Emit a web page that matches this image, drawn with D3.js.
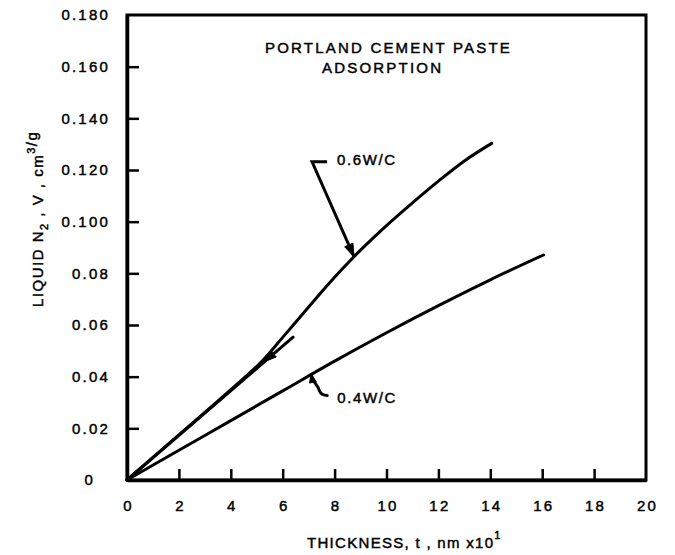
<!DOCTYPE html>
<html>
<head>
<meta charset="utf-8">
<script src="https://cdn.jsdelivr.net/npm/d3@7"></script>
<style>
  body { margin: 0; background: #fff; }
  text { font-family: "Liberation Sans", Arial, sans-serif; fill: #000; }
</style>
</head>
<body>
<div id="chart"></div>
<script>
// t-plot values: thickness t (nm x10) vs liquid N2 volume V (cm3/g)
var t06 = [0, 2, 4, 5.3, 6, 7, 8, 9, 10, 11, 12, 13, 14.05];
var v06 = [0, 0.0175, 0.035, 0.047, 0.0552, 0.067, 0.0785, 0.089, 0.0985, 0.1073, 0.1157, 0.1235, 0.1303];
var t04 = [0, 2, 4, 6, 8, 10, 12, 14, 16.05];
var v04 = [0, 0.0115, 0.023, 0.0345, 0.046, 0.057, 0.0675, 0.0775, 0.0871];
// straight initial part of the 0.6 curve, drawn past the split point
var tFit = [0, 6.4];
var vFit = [0, 0.0553];

var xTicks = [0, 2, 4, 6, 8, 10, 12, 14, 16, 18, 20];
var xTickLabels = ["0", "2", "4", "6", "8", "10", "12", "14", "16", "18", "20"];
var yTicks = [0, 0.02, 0.04, 0.06, 0.08, 0.10, 0.12, 0.14, 0.16, 0.18];
var yTickLabels = ["0", "0.02", "0.04", "0.06", "0.08", "0.100", "0.120", "0.140", "0.160", "0.180"];

var width = 675, height = 555;

var svg = d3.select("#chart").append("svg")
    .attr("width", width)
    .attr("height", height);

var x = d3.scaleLinear().domain([0, 20]).range([127, 646]);
var y = d3.scaleLinear().domain([0, 0.18]).range([480, 15]);

// frame (top + right edges)
svg.append("rect")
    .attr("x", x(0))
    .attr("y", y(0.18))
    .attr("width", x(20) - x(0))
    .attr("height", y(0) - y(0.18))
    .style("fill", "none")
    .style("stroke", "#000")
    .style("stroke-width", 3);

// y axis, ticks pointing inward
var yAxis = svg.append("g")
    .attr("transform", "translate(" + x(0) + ",0)")
    .call(d3.axisLeft(y)
        .tickValues(yTicks)
        .tickSizeInner(-12)
        .tickSizeOuter(0)
        .tickPadding(17)
        .tickFormat(function (d, i) { return yTickLabels[i]; }));

// x axis
var xAxis = svg.append("g")
    .attr("transform", "translate(0," + y(0) + ")")
    .call(d3.axisBottom(x)
        .tickValues(xTicks)
        .tickSizeInner(-11)
        .tickSizeOuter(0)
        .tickPadding(20)
        .tickFormat(function (d, i) { return xTickLabels[i]; }));

svg.selectAll(".domain")
    .style("stroke", "#000")
    .style("stroke-width", 3.5);
svg.selectAll(".tick line")
    .style("stroke", "#000")
    .style("stroke-width", 2.5);
svg.selectAll(".tick text")
    .attr("font-family", null)
    .style("font-size", "15px")
    .style("letter-spacing", "2.2px")
    .style("stroke", "#000")
    .style("stroke-width", 0.45);
// the corner ticks sit on the frame
yAxis.selectAll(".tick line").filter(function (d) { return d === 0 || d === 0.18; }).remove();
xAxis.selectAll(".tick line").filter(function (d) { return d === 0 || d === 20; }).remove();
// the "0" on the y axis is set further left than the others
yAxis.selectAll(".tick text").filter(function (d) { return d === 0; }).attr("x", -32);
xAxis.selectAll(".tick text").attr("dx", "1px");

var line = d3.line()
    .x(function (d) { return x(d[0]); })
    .y(function (d) { return y(d[1]); })
    .curve(d3.curveMonotoneX);

function pairs(ts, vs) {
    return ts.map(function (t, i) { return [t, vs[i]]; });
}

var curves = [pairs(t06, v06), pairs(t04, v04), pairs(tFit, vFit)];

svg.selectAll(".curve")
    .data(curves)
    .enter().append("path")
    .attr("class", "curve")
    .attr("d", line)
    .style("fill", "none")
    .style("stroke", "#000")
    .style("stroke-width", 3)
    .style("stroke-linecap", "round");

// filled arrow head with its point at tip, coming from 'from'
function arrowHead(tip, from, len, half) {
    var dx = tip[0] - from[0], dy = tip[1] - from[1];
    var d = Math.sqrt(dx * dx + dy * dy);
    var ux = dx / d, uy = dy / d;
    var bx = tip[0] - ux * len, by = tip[1] - uy * len;
    var pts = [tip, [bx - uy * half, by + ux * half], [bx + uy * half, by - ux * half]];
    svg.append("path")
        .attr("d", "M" + pts.join("L") + "Z")
        .style("fill", "#000")
        .style("stroke", "#000")
        .style("stroke-width", 1)
        .style("stroke-linejoin", "round");
}

var v06At = d3.scaleLinear().domain(t06).range(v06);
var v04At = d3.scaleLinear().domain(t04).range(v04);
var vFitAt = d3.scaleLinear().domain(tFit).range(vFit);

// arrow where the 0.6 curve leaves the straight line
var split = [x(5.3), y(vFitAt(5.3))];
arrowHead(split, [x(6.4), y(vFitAt(6.4))], 12, 4);

// 0.6W/C leader
var tip6 = [x(8.75), y(v06At(8.75))];
var knee6 = [tip6[0] - 42, tip6[1] - 95];
svg.append("polyline")
    .attr("points", [[knee6[0] + 15, knee6[1]], knee6, tip6].join(" "))
    .style("fill", "none")
    .style("stroke", "#000")
    .style("stroke-width", 3)
    .style("stroke-linejoin", "miter");
arrowHead(tip6, knee6, 13, 4.5);

// 0.4W/C leader (small s-shaped hook)
var tip4 = [x(7.1), y(v04At(7.1))];
svg.append("path")
    .attr("d", "M" + tip4 + "c1,8 7,10 8,16 q2,5 8,5")
    .style("fill", "none")
    .style("stroke", "#000")
    .style("stroke-width", 3)
    .style("stroke-linecap", "round");
arrowHead(tip4, [tip4[0] + 2, tip4[1] + 10], 8, 3.5);

var labelStyle = function (sel) {
    sel.style("font-size", "15px")
        .style("letter-spacing", "1.6px")
        .style("stroke", "#000")
        .style("stroke-width", 0.45);
};

svg.append("text")
    .attr("x", knee6[0] + 25)
    .attr("y", knee6[1] + 3)
    .call(labelStyle)
    .text("0.6W/C");

svg.append("text")
    .attr("x", tip4[0] + 26)
    .attr("y", tip4[1] + 28)
    .call(labelStyle)
    .text("0.4W/C");

// title
svg.append("text")
    .attr("x", 265)
    .attr("y", 53)
    .call(labelStyle)
    .style("letter-spacing", "2.2px")
    .text("PORTLAND CEMENT PASTE");
svg.append("text")
    .attr("x", 322)
    .attr("y", 73)
    .call(labelStyle)
    .style("letter-spacing", "2.2px")
    .text("ADSORPTION");

// x axis title
var xt = svg.append("text")
    .attr("x", 307)
    .attr("y", 548)
    .call(labelStyle)
    .style("letter-spacing", "1.3px");
xt.append("tspan").text("THICKNESS, t , nm  x10");
xt.append("tspan").attr("dy", -9).style("font-size", "11px").text("1");

// y axis title, rotated
var yt = svg.append("text")
    .attr("transform", "translate(43,307) rotate(-90)")
    .call(labelStyle)
    .style("letter-spacing", "1.5px");
yt.append("tspan").text("LIQUID N");
yt.append("tspan").attr("dy", 5).style("font-size", "11px").text("2");
yt.append("tspan").attr("dy", -5).text(" , V , cm");
yt.append("tspan").attr("dy", -8).style("font-size", "11px").text("3");
yt.append("tspan").attr("dy", 2).text("/g");
</script>
</body>
</html>
